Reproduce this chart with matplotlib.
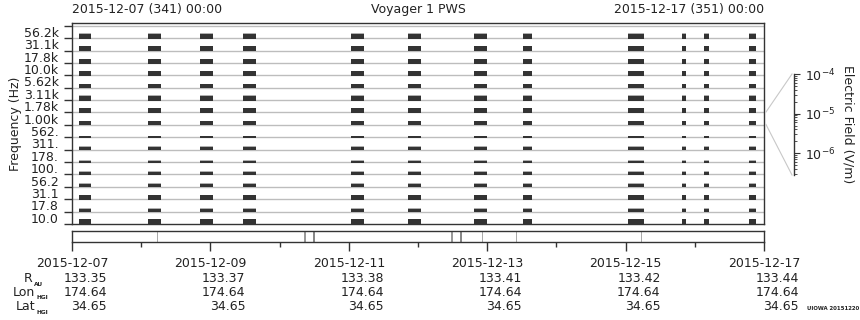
import matplotlib
matplotlib.use('Agg')
import matplotlib.pyplot as plt
from matplotlib.lines import Line2D
from matplotlib.ticker import FixedLocator, LogLocator, NullFormatter, NullLocator
from matplotlib.transforms import blended_transform_factory, ScaledTranslation

plt.rcParams['font.family'] = ['DejaVu Sans']
TXT = '#222222'
DARK = '#333333'

# ---- data ----
# frequency channel labels, top -> bottom
freq_labels = ['56.2k', '31.1k', '17.8k', '10.0k', '5.62k', '3.11k', '1.78k', '1.00k',
               '562.', '311.', '178.', '100.', '56.2', '31.1', '17.8', '10.0']
# bar height (fraction of a channel band), top -> bottom
bar_height = [0.36, 0.36, 0.33, 0.33, 0.33, 0.33, 0.36, 0.33,
              0.13, 0.22, 0.11, 0.16, 0.25, 0.32, 0.25, 0.38]
# faint gray fringe above the dark bar, top -> bottom
gray_height = [0.06, 0.0, 0.0, 0.0, 0.0, 0.04, 0.0, 0.0,
               0.0, 0.04, 0.08, 0.1, 0.08, 0.0, 0.08, 0.06]
# observation blocks, hours after 2015-12-07 00:00
block_start_h = [2.5, 26.5, 44.4, 59.4, 96.8, 116.5, 139.4, 156.4, 192.8, 211.6, 219.2, 234.8]
block_end_h = [6.6, 30.8, 48.8, 63.8, 101.3, 121.0, 143.8, 159.5, 198.4, 213.0, 220.8, 237.2]
# marks in the lower strip, hours
mark_h = [29.6, 80.8, 84.0, 131.7, 134.9, 142.1, 153.9, 197.2]
mark_w = [1.0, 2.0, 2.0, 2.0, 2.0, 1.0, 1.0, 1.0]
mark_c = ['#aaaaaa', '#999999', '#888888', '#999999', '#888888', '#aaaaaa', '#aaaaaa', '#aaaaaa']
# x ticks
tick_hours = [0, 48, 96, 144, 192, 240]
minor_hours = [24, 72, 120, 168, 216]
tick_dates = ['2015-12-07', '2015-12-09', '2015-12-11', '2015-12-13', '2015-12-15', '2015-12-17']
r_au = ['133.35', '133.37', '133.38', '133.41', '133.42', '133.44']
lon_hgi = ['174.64', '174.64', '174.64', '174.64', '174.64', '174.64']
lat_hgi = ['34.65', '34.65', '34.65', '34.65', '34.65', '34.65']

W, H = 860, 320
fig = plt.figure(figsize=(W / 100, H / 100), dpi=100)


def fx(px):
    return px / W


def fy(py):
    return 1 - py / H


# ---- main panel ----
ax = fig.add_axes([fx(72), fy(224), fx(692), 201 / H])
n = len(freq_labels)
ax.set_xlim(0, 240)
ax.set_ylim(0, n + 0.22)
xr = [(s, e - s) for s, e in zip(block_start_h, block_end_h)]
for k, lab in enumerate(freq_labels):
    i = n - 1 - k  # band index from bottom
    ax.axhline(i + 1, color='#bdbdbd', lw=1.0, zorder=1)
    ax.broken_barh(xr, (i - 0.05, bar_height[k] + 0.05), facecolor=DARK, edgecolor='none', zorder=3)
    if gray_height[k] > 0:
        ax.broken_barh(xr, (i + bar_height[k], gray_height[k]), facecolor='#b0b0b0',
                       edgecolor='none', zorder=2)
ax.yaxis.set_major_locator(FixedLocator(range(n + 1)))
ax.yaxis.set_major_formatter(NullFormatter())
ax.yaxis.set_minor_locator(FixedLocator([i + 0.5 for i in range(n)]))
ax.set_yticklabels(freq_labels[::-1], minor=True)
ax.tick_params(axis='y', which='major', length=6, width=1, color=DARK, direction='out')
ax.tick_params(axis='y', which='minor', length=0, pad=9.5, labelsize=9, labelcolor=TXT)
ax.xaxis.set_major_locator(NullLocator())
for s in ax.spines.values():
    s.set_color(DARK)
    s.set_linewidth(1.0)
ax.set_ylabel('Frequency (Hz)', fontsize=9, color=TXT, labelpad=1)
ax.set_title('Voyager 1 PWS', fontsize=9, color=TXT, pad=7)
ax.set_title('2015-12-07 (341) 00:00', fontsize=9, color=TXT, pad=7, loc='left')
ax.set_title('2015-12-17 (351) 00:00', fontsize=9, color=TXT, pad=7, loc='right')

# ---- lower strip ----
sx = fig.add_axes([fx(72), fy(242), fx(692), 10.7 / H])
sx.set_xlim(0, 240)
sx.set_ylim(0, 1)
for h, w, c in zip(mark_h, mark_w, mark_c):
    sx.axvline(h, color=c, lw=w * 0.72)
sx.set_yticks([])
sx.xaxis.set_major_locator(FixedLocator(tick_hours))
sx.xaxis.set_minor_locator(FixedLocator(minor_hours))
sx.set_xticklabels(tick_dates, fontsize=9, color=TXT)
sx.tick_params(axis='x', which='major', length=6.5, width=1, color=DARK, pad=4.5)
sx.tick_params(axis='x', which='minor', length=3.3, width=1, color=DARK)
for s in sx.spines.values():
    s.set_color(DARK)
    s.set_linewidth(1.0)

# ephemeris rows under each date, right-aligned with the date's right edge
row_tr = blended_transform_factory(sx.transData, fig.transFigure) + \
    ScaledTranslation(35 / 100, 0, fig.dpi_scale_trans)
for vals, yb in [(r_au, 282.5), (lon_hgi, 296), (lat_hgi, 310.5)]:
    for hx, v in zip(tick_hours, vals):
        fig.text(hx, fy(yb), v, transform=row_tr, fontsize=9, color=TXT,
                 ha='right', va='baseline')

# row labels
for name, sub, xm, yb in [('R', 'AU', 32.5, 282.5), ('Lon', 'HGI', 35.5, 296), ('Lat', 'HGI', 35.5, 310.5)]:
    fig.text(fx(xm), fy(yb), name, fontsize=9, color=TXT, ha='right', va='baseline')
    fig.text(fx(xm + 1.2), fy(yb + 3), sub, fontsize=4.2, fontweight='bold', color=TXT,
             ha='left', va='baseline')

# ---- colour scale axis ----
cax = fig.add_axes([fx(794), fy(175), 0.0001, 101 / H])
cax.set_yscale('log')
cax.set_ylim(10 ** -6.55, 1e-4)
cax.set_xticks([])
cax.yaxis.tick_right()
cax.yaxis.set_major_locator(LogLocator(base=10, numticks=10))
cax.yaxis.set_minor_locator(LogLocator(base=10, subs=[2, 3, 4, 5, 6, 7, 8, 9], numticks=20))
cax.yaxis.set_minor_formatter(NullFormatter())
cax.tick_params(axis='y', which='major', length=4.5, width=0.8, color=DARK, labelsize=9,
                labelcolor=TXT, pad=3)
cax.tick_params(axis='y', which='minor', length=2.5, width=0.6, color=DARK)
for k in ['top', 'bottom', 'left']:
    cax.spines[k].set_visible(False)
cax.spines['right'].set_color(DARK)
cax.spines['right'].set_linewidth(1.0)
fig.text(fx(848), fy(124), 'Electric Field (V/m)', rotation=270, fontsize=9, color=TXT,
         ha='center', va='center')

fig.add_artist(Line2D([fx(766), fx(792)], [fy(112), fy(74)], color='#c8c8c8', lw=0.8))
fig.add_artist(Line2D([fx(766), fx(792)], [fy(124.5), fy(175)], color='#c8c8c8', lw=0.8))

fig.text(fx(859), fy(309), 'UIOWA 20151220', fontsize=3.9, fontweight='bold', color=TXT,
         ha='right', va='center')

fig.savefig('out.png', dpi=100)
